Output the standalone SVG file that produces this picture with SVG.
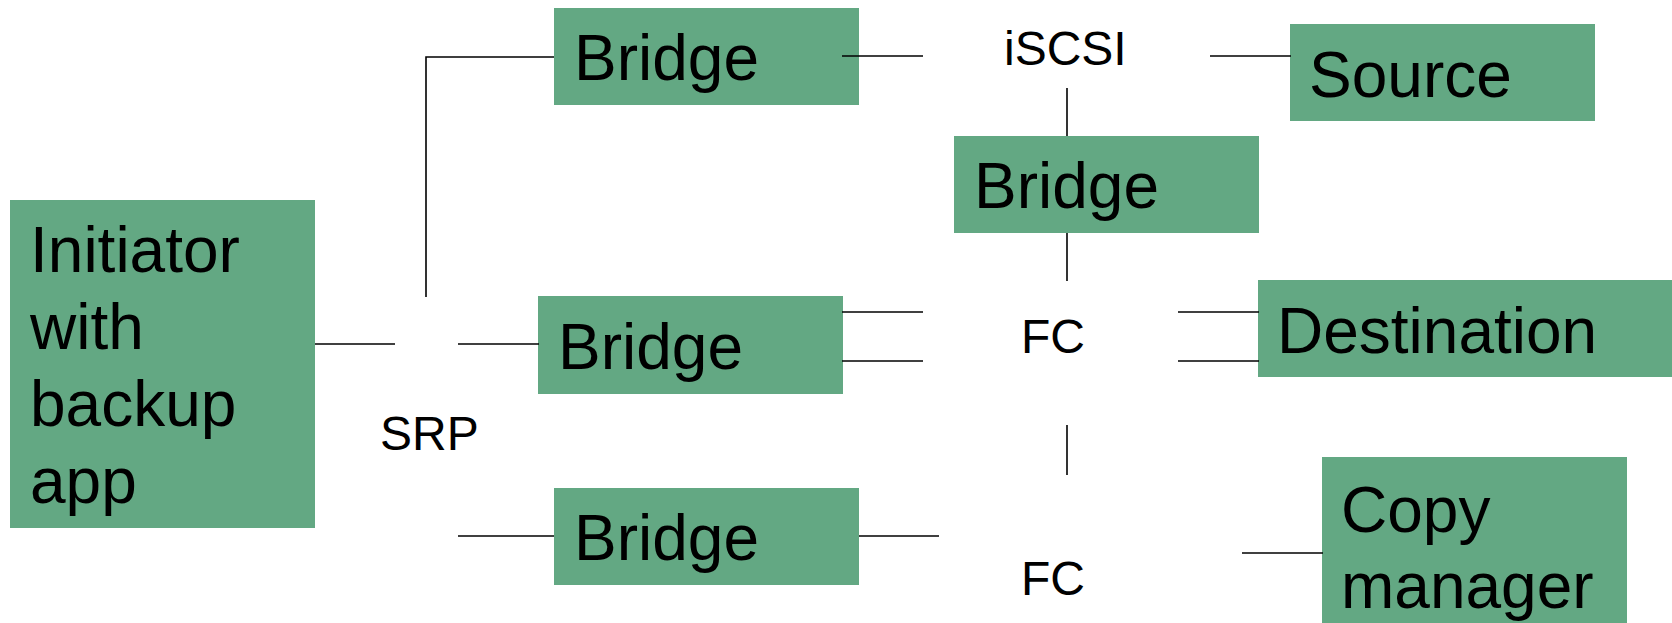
<svg xmlns="http://www.w3.org/2000/svg" width="1672" height="623" viewBox="0 0 1672 623">
<style>
.box{fill:#63a883;stroke:none}
.big{font-family:"Liberation Sans",Arial,sans-serif;font-size:64px;fill:#000}
.small{font-family:"Liberation Sans",Arial,sans-serif;font-size:48px;fill:#000}
.conn line,.conn polyline{stroke:#000;stroke-width:1.6;fill:none}
</style>
<rect width="1672" height="623" fill="#fff"/>
<g id="initiator">
<rect class="box" x="10" y="200" width="305" height="328"/>
<text class="big" x="30" y="272">Initiator</text>
<text class="big" x="30" y="349">with</text>
<text class="big" x="30" y="426">backup</text>
<text class="big" x="30" y="503">app</text>
</g>
<g id="bridge1">
<rect class="box" x="554" y="8" width="305" height="97"/>
<text class="big" x="574" y="80">Bridge</text>
</g>
<g id="bridge3">
<rect class="box" x="954" y="136" width="305" height="97"/>
<text class="big" x="974" y="208">Bridge</text>
</g>
<g id="bridge2">
<rect class="box" x="538" y="296" width="305" height="98"/>
<text class="big" x="558" y="369">Bridge</text>
</g>
<g id="bridge4">
<rect class="box" x="554" y="488" width="305" height="97"/>
<text class="big" x="574" y="560">Bridge</text>
</g>
<g id="source">
<rect class="box" x="1290" y="24" width="305" height="97"/>
<text class="big" x="1309" y="97">Source</text>
</g>
<g id="destination">
<rect class="box" x="1258" y="280" width="420" height="97"/>
<text class="big" x="1277" y="353">Destination</text>
</g>
<g id="copymanager">
<rect class="box" x="1322" y="457" width="305" height="180"/>
<text class="big" x="1341" y="532">Copy</text>
<text class="big" x="1341" y="608">manager</text>
</g>
<g id="srp"><text class="small" x="380" y="450">SRP</text></g>
<g id="iscsi"><text class="small" x="1004" y="65">iSCSI</text></g>
<g id="fc1"><text class="small" x="1021" y="353">FC</text></g>
<g id="fc2"><text class="small" x="1021" y="595">FC</text></g>
<g class="conn" id="connectors">
<line x1="315" y1="344" x2="395" y2="344"/>
<line x1="458" y1="344" x2="539" y2="344"/>
<polyline points="426,297 426,57 554,57"/>
<line x1="458" y1="536" x2="554" y2="536"/>
<line x1="842" y1="56" x2="923" y2="56"/>
<line x1="1210" y1="56" x2="1291" y2="56"/>
<line x1="1067" y1="88" x2="1067" y2="136"/>
<line x1="1067" y1="233" x2="1067" y2="281"/>
<line x1="842" y1="312" x2="923" y2="312"/>
<line x1="842" y1="361" x2="923" y2="361"/>
<line x1="1178" y1="312" x2="1259" y2="312"/>
<line x1="1178" y1="361" x2="1259" y2="361"/>
<line x1="1067" y1="425" x2="1067" y2="475"/>
<line x1="859" y1="536" x2="939" y2="536"/>
<line x1="1242" y1="553" x2="1323" y2="553"/>
</g>
</svg>
